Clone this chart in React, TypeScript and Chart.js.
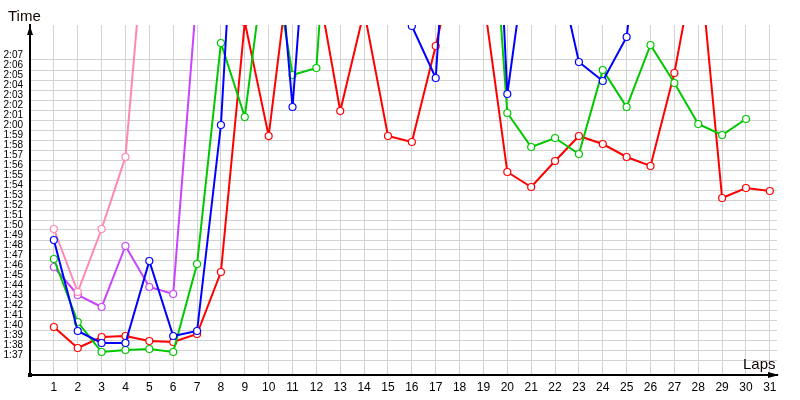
import React, { useEffect, useRef } from "react";
import { Chart, registerables } from "chart.js";

Chart.register(...registerables);

// Laps on the x axis
const laps = [1, 2, 3, 4, 5, 6, 7, 8, 9, 10, 11, 12, 13, 14, 15, 16, 17, 18, 19, 20, 21, 22, 23, 24, 25, 26, 27, 28, 29, 30, 31];

// Y tick values (seconds) and their labels
const yTickValues = [97, 98, 99, 100, 101, 102, 103, 104, 105, 106, 107, 108, 109, 110, 111, 112, 113, 114, 115, 116, 117, 118, 119, 120, 121, 122, 123, 124, 125, 126, 127];
const yTickLabels = ["1:37", "1:38", "1:39", "1:40", "1:41", "1:42", "1:43", "1:44", "1:45", "1:46", "1:47", "1:48", "1:49", "1:50", "1:51", "1:52", "1:53", "1:54", "1:55", "1:56", "1:57", "1:58", "1:59", "2:00", "2:01", "2:02", "2:03", "2:04", "2:05", "2:06", "2:07"];

// Lap times in seconds (values above ~130 run off the top of the chart)
const redTimes = [100.3, 98.2, 99.3, 99.4, 98.9, 98.8, 99.6, 105.8, 130.8, 119.4, 138.7, 135.3, 121.9, 131.9, 119.4, 118.8, 128.4, 138.9, 133.3, 115.8, 114.3, 116.9, 119.4, 118.6, 117.3, 116.4, 125.7, 138.5, 113.2, 114.2, 113.9];
const greenTimes = [107.1, 100.8, 97.8, 98.0, 98.1, 97.8, 106.6, 128.7, 121.3, 140, 125.5, 126.2, 161, 150, 150, 152, 150, 151, 155, 121.7, 118.3, 119.2, 117.6, 126.0, 122.3, 128.5, 124.7, 120.6, 119.5, 121.1, null];
const blueTimes = [109.0, 99.9, 98.7, 98.7, 106.9, 99.4, 99.9, 120.5, 162, 150, 122.3, 154, 150, 148, 152, 130.4, 125.2, 162, 173, 123.6, 141, 137.5, 126.8, 124.9, 129.3, 150, null, null, null, null, null];
const pinkTimes = [110.1, 103.8, 110.1, 117.3, 145, null, null, null, null, null, null, null, null, null, null, null, null, null, null, null, null, null, null, null, null, null, null, null, null, null, null];
const purpleTimes = [106.3, 103.5, 102.3, 108.4, 104.3, 103.6, 134, null, null, null, null, null, null, null, null, null, null, null, null, null, null, null, null, null, null, null, null, null, null, null, null];

const toPoints = (arr: (number | null)[]) => arr.map((v, i) => ({ x: laps[i], y: v }));

const mkSet = (label: string, color: string, arr: (number | null)[], order: number) => ({
  label,
  data: toPoints(arr),
  borderColor: color,
  backgroundColor: "#ffffff",
  borderWidth: 2,
  pointRadius: 3.5,
  pointBorderWidth: 1.2,
  pointBackgroundColor: "#ffffff",
  pointBorderColor: color,
  tension: 0,
  spanGaps: false,
  order,
});

const decorPlugin = {
  id: "decor",
  afterDraw(chart: any) {
    const ctx = chart.ctx;
    const a = chart.chartArea;
    ctx.save();
    ctx.fillStyle = "#000";
    // y axis arrow
    ctx.beginPath();
    ctx.moveTo(a.left, a.top + 1);
    ctx.lineTo(a.left - 3, a.top + 10);
    ctx.lineTo(a.left + 3, a.top + 10);
    ctx.closePath();
    ctx.fill();
    // x axis arrow
    ctx.beginPath();
    ctx.moveTo(a.right + 2, a.bottom);
    ctx.lineTo(a.right - 9, a.bottom - 3);
    ctx.lineTo(a.right - 9, a.bottom + 3);
    ctx.closePath();
    ctx.fill();
    // origin square
    ctx.fillRect(a.left - 2, a.bottom - 2, 4, 4);
    // axis titles
    ctx.fillStyle = "#110500";
    ctx.font = "15px 'Liberation Sans', Arial, sans-serif";
    ctx.textBaseline = "alphabetic";
    ctx.textAlign = "left";
    ctx.fillText("Time", 8, 21);
    ctx.fillText("Laps", 743, 369);
    ctx.restore();
  },
};

export default function App() {
  const ref = useRef<HTMLCanvasElement>(null);
  useEffect(() => {
    const chart = new Chart(ref.current!, {
      type: "line",
      data: {
        datasets: [
          mkSet("Blue", "#0000ff", blueTimes, 1),
          mkSet("Green", "#00c800", greenTimes, 2),
          mkSet("Red", "#ff0000", redTimes, 3),
          mkSet("Pink", "#ff88b0", pinkTimes, 4),
          mkSet("Purple", "#c844ff", purpleTimes, 5),
        ] as any,
      },
      options: {
        responsive: false,
        animation: false,
        layout: { padding: { top: 25, right: 23, left: 0, bottom: 0 } },
        plugins: {
          legend: { display: false },
          tooltip: { enabled: false },
        },
        scales: {
          x: {
            type: "linear",
            min: 0,
            max: 31.3,
            afterFit: (s: any) => {
              s.height = 25;
            },
            afterBuildTicks: (s: any) => {
              s.ticks = laps.map((v) => ({ value: v }));
            },
            ticks: {
              autoSkip: false,
              maxRotation: 0,
              padding: 5,
              color: "#000",
              font: { family: "'Liberation Sans', Arial, sans-serif", size: 12 },
              callback: (v: any) => String(v),
            },
            grid: { color: "#d2d2d2", lineWidth: 1, drawTicks: false },
            border: { display: true, color: "#000", width: 2 },
          },
          y: {
            type: "linear",
            min: 95.5,
            max: 130.5,
            afterFit: (s: any) => {
              s.width = 30;
            },
            afterBuildTicks: (s: any) => {
              s.ticks = yTickValues.map((v) => ({ value: v }));
            },
            ticks: {
              autoSkip: false,
              padding: 7,
              labelOffset: -5,
              color: "#000",
              font: { family: "'Liberation Sans', Arial, sans-serif", size: 10 },
              callback: (v: any) => {
                const i = yTickValues.indexOf(Number(v));
                return i >= 0 ? yTickLabels[i] : "";
              },
            },
            grid: { color: "#d2d2d2", lineWidth: 1, drawTicks: false },
            border: { display: true, color: "#000", width: 2 },
          },
        },
      },
      plugins: [decorPlugin],
    });
    return () => chart.destroy();
  }, []);
  return (
    <div style={{ position: "absolute", left: 0, top: 0, width: 800, height: 400, background: "#fff" }}>
      <canvas ref={ref} width={800} height={400} style={{ width: 800, height: 400, display: "block" }} />
    </div>
  );
}
